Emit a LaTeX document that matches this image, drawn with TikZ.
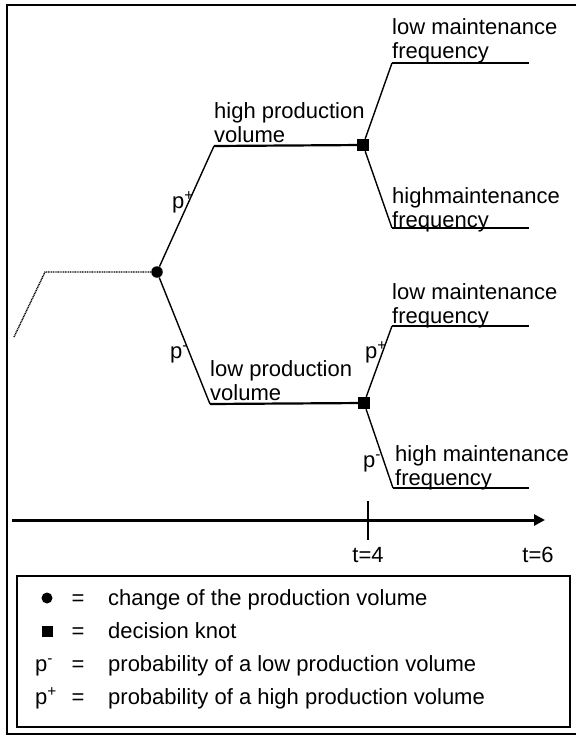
\documentclass[tikz,border=0pt]{standalone}
\usepackage{fontspec}
\setmainfont{Liberation Sans}
\usepackage{tikz}
\usetikzlibrary{arrows.meta, positioning}

\begin{document}
\begin{tikzpicture}[x=1pt,
				y=-1pt,
				>={Triangle[length=11pt,width=11pt]},
				branch/.style={line width=1.4pt},
				level/.style={line width=2.2pt},
				chance/.style={circle, fill=black, inner sep=0pt, minimum size=11.5pt},
				knot/.style={rectangle, fill=black, inner sep=0pt, minimum size=12pt},
				lbl/.style={anchor=north west, inner sep=0pt, align=left, font=\fontsize{22}{24}\selectfont},
				txt/.style={inner sep=0pt, font=\fontsize{22}{24}\selectfont}]
				\useasboundingbox (0,0) rectangle (576,736);
				\draw[line width=2pt] (576,5) -- (7,5) -- (7,734) -- (576,734);
				% tree
				\coordinate (s0) at (14,337);
				\coordinate (s1) at (45,272);
				\node at (157,272) (chg) [chance] {};
				\coordinate (hp) at (214,146);
				\coordinate (lp) at (210,404);
				\node at (363,145) (dk1) [knot] {};
				\node at (364,403) (dk2) [knot] {};
				\coordinate (u1) at (392,63);
				\coordinate (u1e) at (529,63);
				\coordinate (d1) at (392,228);
				\coordinate (d1e) at (529,228);
				\coordinate (u2) at (392,326);
				\coordinate (u2e) at (529,326);
				\coordinate (d2) at (393,488);
				\coordinate (d2e) at (529,488);
				\draw[line width=1.4pt, dash pattern=on 1pt off 0.7pt] (s0) -- (s1) -- (chg);
				\draw[branch] (chg) -- (hp);
				\draw[level] (hp) -- (dk1);
				\draw[branch] (chg) -- (lp);
				\draw[level] (lp) -- (dk2);
				\draw[branch] (dk1) -- (u1);
				\draw[line width=1.6pt] (u1) -- (u1e);
				\draw[branch] (dk1) -- (d1);
				\draw[line width=1.6pt] (d1) -- (d1e);
				\draw[branch] (dk2) -- (u2);
				\draw[level] (u2) -- (u2e);
				\draw[branch] (dk2) -- (d2);
				\draw[level] (d2) -- (d2e);
				% labels
				\node at (214,102) (hpv) [lbl] {high production\\volume};
				\node at (210,360) (lpv) [lbl] {low production\\volume};
				\node at (392,18) (lmf1) [lbl] {low maintenance\\frequency};
				\node at (392,187) (hmf1) [lbl] {highmaintenance\\frequency};
				\node at (392,283) (lmf2) [lbl] {low maintenance\\frequency};
				\node at (395,445) (hmf2) [lbl] {high maintenance\\frequency};
				\node at (172,208) (pp1) [txt, anchor=base west] {p\textsuperscript{+}};
				\node at (170,358) (pm1) [txt, anchor=base west] {p\textsuperscript{-}};
				\node at (365,358) (pp2) [txt, anchor=base west] {p\textsuperscript{+}};
				\node at (363,467) (pm2) [txt, anchor=base west] {p\textsuperscript{-}};
				% time axis
				\coordinate (t0) at (12,520);
				\coordinate (t1) at (545,520);
				\coordinate (k4a) at (368,501);
				\coordinate (k4b) at (368,540);
				\draw[->, line width=3pt] (t0) -- (t1);
				\draw[line width=1.5pt] (k4a) -- (k4b);
				\node at (368,555) (t4) [txt] {t=4};
				\node at (538,555) (t6) [txt] {t=6};
				% legend
				\draw[line width=1.6pt] (17,576) rectangle (570,727);
				\node at (47,598) (lgc) [chance, minimum size=11pt] {};
				\node at (47,631) (lgk) [knot, minimum size=11pt] {};
				\node at (35,671) (lgm) [txt, anchor=base west] {p\textsuperscript{-}};
				\node at (35,704) (lgp) [txt, anchor=base west] {p\textsuperscript{+}};
				\foreach \y in {605,638,671,704}
					\node at (78,\y) [txt, anchor=base] {=};
				\node at (108,605) (lgt1) [txt, anchor=base west] {change of the production volume};
				\node at (108,638) (lgt2) [txt, anchor=base west] {decision knot};
				\node at (108,671) (lgt3) [txt, anchor=base west] {probability of a low production volume};
				\node at (108,704) (lgt4) [txt, anchor=base west] {probability of a high production volume};
			\end{tikzpicture}
\end{document}
